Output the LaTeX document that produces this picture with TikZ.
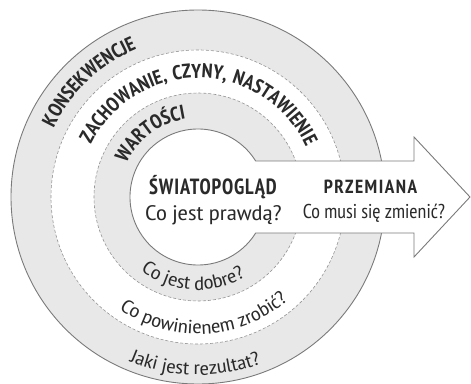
\documentclass[tikz,border=0pt]{standalone}
\usepackage{fontspec}
\setmainfont{PT Sans Narrow}
\newfontfamily\headfont[LetterSpace=4,FakeStretch=0.92]{PT Sans Narrow Bold}
\newfontfamily\arcfont[LetterSpace=8]{PT Sans Narrow Bold}
\newfontfamily\askfont[FakeStretch=1.2]{PT Sans Narrow}
\usepackage{xcolor}
\usetikzlibrary{decorations.text}

\definecolor{ringgray}{HTML}{E8E8E8}
\definecolor{linegray}{HTML}{7A7A7A}
\definecolor{textdark}{HTML}{2A2A2A}

\newcommand\archead{\arcfont\fontsize{20}{22}\selectfont\color{textdark}}
\newcommand\arcask{\askfont\fontsize{19}{21}\selectfont\color{textdark}}

\tikzset{
  ringline/.style={draw=linegray, line width=0.9pt},
  dashline/.style={draw=linegray!80, line width=0.6pt, dash pattern=on 3pt off 2pt},
  headtext/.style={font=\headfont\fontsize{22}{24}\selectfont, text=textdark, inner sep=0pt},
  asktext/.style={font=\askfont\fontsize{21}{24}\selectfont, text=textdark, inner sep=0pt},
  arctext/.style={decorate, decoration={text along path, text align=center, text={#1}}}
}

\begin{document}
\begin{tikzpicture}[x=1pt,y=1pt]
\useasboundingbox (-198,-186) rectangle (273,197);
\fill[ringgray] (0,0) circle(187);
\fill[white] (0,0) circle(147);
\fill[ringgray] (0,0) circle(104);
\draw[ringline] (0,0) circle(187);
\draw[dashline] (0,0) circle(147);
\draw[dashline] (0,0) circle(104);
% worldview circle and the arrow
\draw[ringline, fill=white, line join=miter] (32:68) arc (32:328:68) -- (216,-36) -- (216,-60)
  -- (272,0) -- (216,60) -- (216,36) -- cycle;
\path[arctext={|\archead|KONSEKWENCJE}] (173.5:160) arc (173.5:93.5:160);
\path[arctext={|\archead|ZACHOWANIE, CZYNY, NASTAWIENIE}] (179.5:119) arc (179.5:-0.5:119);
\path[arctext={|\archead|WARTOŚCI}] (172:79) arc (172:82:79);
\path[arctext={|\arcask|Co jest dobre?}] (-153.7:93) arc (-153.7:-33.7:93);
\path[arctext={|\arcask|Co powinienem zrobić?}] (-147:137) arc (-147:-27:137);
\path[arctext={|\arcask|Jaki jest rezultat?}] (-131:178) arc (-131:-51:178);
\node[headtext, anchor=base] (worldview) at (15,3) {ŚWIATOPOGLĄD};
\node[asktext, anchor=base] (worldask) at (15.5,-23) {Co jest prawdą?};
\node[headtext, anchor=base, font=\arcfont\fontsize{19}{22}\selectfont] (change) at (172.5,4) {PRZEMIANA};
\node[anchor=base, inner sep=0pt, text=textdark, font=\fontsize{20}{22}\selectfont] (changeask) at (176,-21) {Co musi się zmienić?};
\end{tikzpicture}
\end{document}
